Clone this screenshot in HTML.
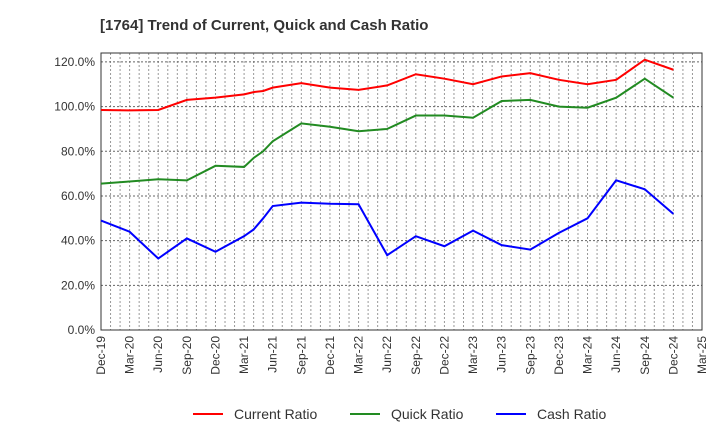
<!DOCTYPE html>
<html><head><meta charset="utf-8"><style>
body{margin:0;background:#fff;font-family:"Liberation Sans",sans-serif;}
</style></head><body>
<svg width="720" height="440" id="c" font-family="Liberation Sans, sans-serif">
<text x="100" y="30" font-size="15" font-weight="bold" fill="#333">[1764]  Trend of Current, Quick and Cash Ratio</text>
</svg>
<script>
const xLabels=["Dec-19","Mar-20","Jun-20","Sep-20","Dec-20","Mar-21","Jun-21","Sep-21","Dec-21","Mar-22","Jun-22","Sep-22","Dec-22","Mar-23","Jun-23","Sep-23","Dec-23","Mar-24","Jun-24","Sep-24","Dec-24","Mar-25"];
const yTicks=[0,20,40,60,80,100,120];
const months=[0,3,6,9,12,15,16,17,18,21,24,27,30,33,36,39,42,45,48,51,54,57,60];
const current=[98.5,98.3,98.5,103,104,105.5,106.5,107,108.5,110.5,108.5,107.5,109.5,114.5,112.5,110,113.5,115,112,110,112,121,116.5];
const quick=[65.5,66.5,67.5,67,73.5,73,77,80,84.5,92.5,91,89,90,96,96,95,102.5,103,100,99.5,104,112.5,104];
const cash=[49,44,32,41,35,42,45,50,55.5,57,56.5,56.3,33.5,42,37.5,44.5,38,36,43.5,50,67,63,52];
const svg=document.getElementById('c');const NS='http://www.w3.org/2000/svg';
const L=101,R=702,T=53,B=330,ymax=124;
const xs=m=>L+(R-L)*m/63;
const ys=v=>B-(B-T)*v/ymax;
function mk(t,a,p){const e=document.createElementNS(NS,t);for(const k in a)e.setAttribute(k,a[k]);(p||svg).appendChild(e);return e;}
for(let m=1;m<63;m++){const g=mk('line',{x1:xs(m),x2:xs(m),y1:T,y2:B,stroke:'#999','stroke-dasharray':'2,2','stroke-width':1});

}
yTicks.forEach(v=>{if(v>0){const g=mk('line',{x1:L,x2:R,y1:ys(v),y2:ys(v),stroke:'#666','stroke-dasharray':'2,2'});

}
const t=mk('text',{x:L-6,y:ys(v)+4,'text-anchor':'end','font-size':12,fill:'#333'});t.textContent=v.toFixed(1)+'%';

});
const fr=mk('rect',{x:L,y:T,width:R-L,height:B-T,fill:'none',stroke:'#333'});


xLabels.forEach((s,i)=>{const x=xs(i*3);const t=mk('text',{transform:`translate(${x+4},${B+6}) rotate(-90)`,'text-anchor':'end','font-size':12,fill:'#333'});t.textContent=s;

});
function line(d,c,n){const p=mk('polyline',{points:d.map((v,i)=>xs(months[i])+','+ys(v)).join(' '),fill:'none',stroke:c,'stroke-width':2});

}
line(current,'#f00','current-ratio-line');line(quick,'#228b22','quick-ratio-line');line(cash,'#00f','cash-ratio-line');
[['Current Ratio','#f00',193],['Quick Ratio','#228b22',350],['Cash Ratio','#00f',496]].forEach(([n,c,x])=>{
const g=mk('g',{});

mk('line',{x1:x,x2:x+30,y1:414,y2:414,stroke:c,'stroke-width':2},g);
const t=mk('text',{x:x+41,y:419,'font-size':14,fill:'#333'},g);t.textContent=n;});
</script>
</body></html>
